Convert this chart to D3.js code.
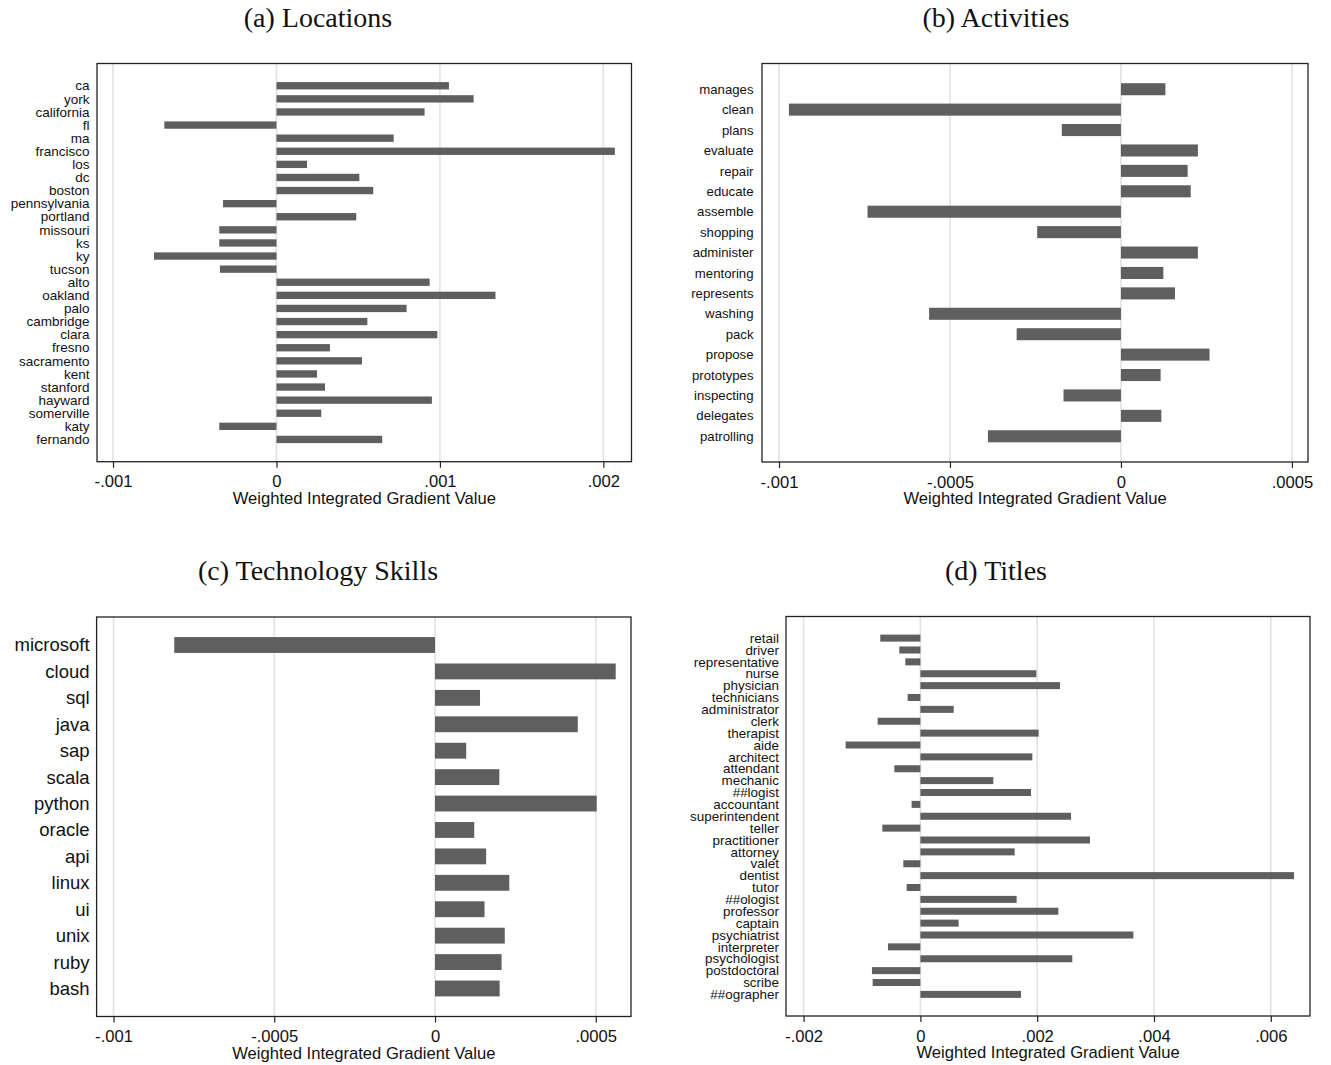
<!DOCTYPE html>
<html><head><meta charset="utf-8">
<script src="https://cdn.jsdelivr.net/npm/d3@7"></script>
<style>body{margin:0;background:#fff}svg{display:block}</style>
</head><body>
<svg id="c" width="1331" height="1065"></svg>
<script>
// ---------- DATA ----------
const locCategories = ["ca","york","california","fl","ma","francisco","los","dc","boston","pennsylvania","portland","missouri","ks","ky","tucson","alto","oakland","palo","cambridge","clara","fresno","sacramento","kent","stanford","hayward","somerville","katy","fernando"];
const locValues = [1.055e-3,1.206e-3,0.906e-3,-0.686e-3,0.717e-3,2.070e-3,0.187e-3,0.507e-3,0.592e-3,-0.327e-3,0.488e-3,-0.350e-3,-0.350e-3,-0.749e-3,-0.346e-3,0.937e-3,1.340e-3,0.796e-3,0.556e-3,0.984e-3,0.327e-3,0.523e-3,0.248e-3,0.297e-3,0.951e-3,0.274e-3,-0.350e-3,0.647e-3];
const locTicks = [-0.001,0,0.001,0.002];
const locTickLabels = ["-.001","0",".001",".002"];

const actCategories = ["manages","clean","plans","evaluate","repair","educate","assemble","shopping","administer","mentoring","represents","washing","pack","propose","prototypes","inspecting","delegates","patrolling"];
const actValues = [0.130e-3,-0.971e-3,-0.173e-3,0.225e-3,0.195e-3,0.204e-3,-0.741e-3,-0.245e-3,0.225e-3,0.124e-3,0.158e-3,-0.561e-3,-0.305e-3,0.259e-3,0.116e-3,-0.168e-3,0.118e-3,-0.389e-3];
const actTicks = [-0.001,-0.0005,0,0.0005];
const actTickLabels = ["-.001","-.0005","0",".0005"];

const techCategories = ["microsoft","cloud","sql","java","sap","scala","python","oracle","api","linux","ui","unix","ruby","bash"];
const techValues = [-0.811e-3,0.562e-3,0.140e-3,0.444e-3,0.097e-3,0.200e-3,0.503e-3,0.122e-3,0.159e-3,0.231e-3,0.154e-3,0.217e-3,0.207e-3,0.201e-3];
const techTicks = [-0.001,-0.0005,0,0.0005];
const techTickLabels = ["-.001","-.0005","0",".0005"];

const titleCategories = ["retail","driver","representative","nurse","physician","technicians","administrator","clerk","therapist","aide","architect","attendant","mechanic","##logist","accountant","superintendent","teller","practitioner","attorney","valet","dentist","tutor","##ologist","professor","captain","psychiatrist","interpreter","psychologist","postdoctoral","scribe","##ographer"];
const titleValues = [-0.687e-3,-0.361e-3,-0.258e-3,1.985e-3,2.390e-3,-0.218e-3,0.570e-3,-0.732e-3,2.025e-3,-1.280e-3,1.917e-3,-0.446e-3,1.249e-3,1.894e-3,-0.150e-3,2.580e-3,-0.652e-3,2.904e-3,1.614e-3,-0.292e-3,6.397e-3,-0.235e-3,1.648e-3,2.362e-3,0.655e-3,3.646e-3,-0.555e-3,2.601e-3,-0.829e-3,-0.817e-3,1.723e-3];
const titleTicks = [-0.002,0,0.002,0.004,0.006];
const titleTickLabels = ["-.002","0",".002",".004",".006"];

const panelTitles = ["(a) Locations","(b) Activities","(c) Technology Skills","(d) Titles"];
const axisTitle = "Weighted Integrated Gradient Value";

// ---------- DRAW ----------
const svg = d3.select("#c");
const SANS = "'Liberation Sans', Arial, sans-serif";
const SERIF = "'Liberation Serif', 'Times New Roman', serif";

function panel(o){
  const g = svg.append("g");
  const x = d3.scaleLinear().domain(o.domain).range([o.left, o.right]);
  const y = d3.scalePoint().domain(o.cats).range([o.top, o.bottom]).padding(o.pad);

  g.selectAll("line.grid").data(o.ticks).join("line")
    .attr("x1", d => x(d)).attr("x2", d => x(d))
    .attr("y1", o.top).attr("y2", o.bottom)
    .attr("stroke", "#e2e2e2").attr("stroke-width", 1.6);

  const bh = y.step() * o.ratio;
  g.selectAll("rect.bar").data(o.vals).join("rect")
    .attr("x", d => x(Math.min(0, d)))
    .attr("width", d => Math.abs(x(d) - x(0)))
    .attr("y", (d, i) => y(o.cats[i]) - bh / 2)
    .attr("height", bh)
    .attr("fill", "#5f5f5f");

  g.append("rect")
    .attr("x", o.left).attr("y", o.top)
    .attr("width", o.right - o.left).attr("height", o.bottom - o.top)
    .attr("fill", "none").attr("stroke", "#222").attr("stroke-width", 1.3);

  const ax = d3.axisBottom(x).tickValues(o.ticks)
    .tickFormat((d, i) => o.tickLabels[i]).tickSize(6).tickPadding(8);
  const axg = g.append("g").attr("transform", `translate(0,${o.bottom})`).call(ax);
  axg.select(".domain").remove();
  axg.selectAll(".tick line").attr("stroke", "#222").attr("stroke-width", 1.2);
  axg.selectAll(".tick text").attr("fill", "#111")
    .style("font-family", SANS).style("font-size", "16.6px");

  g.selectAll("text.lab").data(o.cats).join("text")
    .attr("x", o.left - o.labGap).attr("y", d => y(d)).attr("dy", "0.35em")
    .attr("text-anchor", "end").attr("fill", "#111")
    .style("font-family", SANS).style("font-size", o.labSize + "px")
    .text(d => d);

  g.append("text")
    .attr("x", (o.left + o.right) / 2).attr("y", o.bottom + 42)
    .attr("text-anchor", "middle").attr("fill", "#111")
    .style("font-family", SANS).style("font-size", "16.6px")
    .text(axisTitle);

  g.append("text")
    .attr("x", o.titleX).attr("y", o.titleY)
    .attr("text-anchor", "middle").attr("fill", "#111")
    .style("font-family", SERIF).style("font-size", "28px")
    .text(o.title);
}

panel({cats: locCategories, vals: locValues, ticks: locTicks, tickLabels: locTickLabels,
  domain: [-1.098e-3, 2.172e-3], left: 97, right: 631.5, top: 63.5, bottom: 461.7,
  pad: 1.7, ratio: 0.56, labSize: 13.5, labGap: 7.5, title: panelTitles[0], titleX: 318, titleY: 27});

panel({cats: actCategories, vals: actValues, ticks: actTicks, tickLabels: actTickLabels,
  domain: [-1.0497e-3, 0.547e-3], left: 762, right: 1308, top: 63.5, bottom: 462,
  pad: 1.26, ratio: 0.59, labSize: 13.2, labGap: 8.5, title: panelTitles[1], titleX: 996, titleY: 27});

panel({cats: techCategories, vals: techValues, ticks: techTicks, tickLabels: techTickLabels,
  domain: [-1.0526e-3, 0.6096e-3], left: 96.6, right: 631, top: 617, bottom: 1016.5,
  pad: 1.06, ratio: 0.6, labSize: 18.5, labGap: 7, title: panelTitles[2], titleX: 318, titleY: 580});

panel({cats: titleCategories, vals: titleValues, ticks: titleTicks, tickLabels: titleTickLabels,
  domain: [-2.301e-3, 6.671e-3], left: 786, right: 1310, top: 616.5, bottom: 1016,
  pad: 1.82, ratio: 0.59, labSize: 13.45, labGap: 7, title: panelTitles[3], titleX: 996, titleY: 580});
</script>
</body></html>
